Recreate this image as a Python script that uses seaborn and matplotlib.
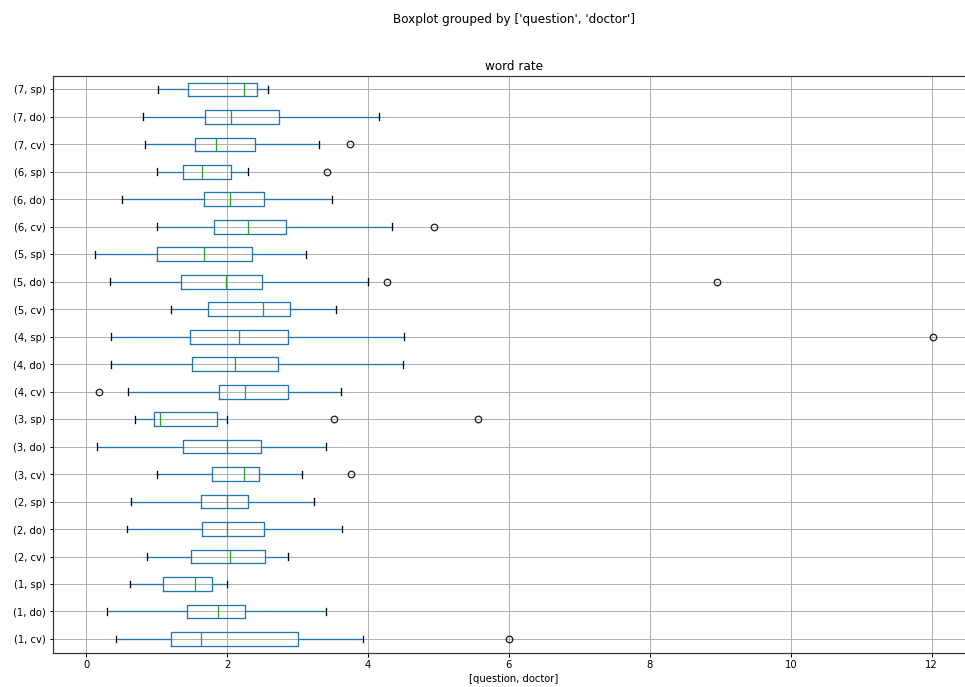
import matplotlib
matplotlib.use("Agg")
import matplotlib.pyplot as plt
import seaborn as sns

# Word-rate summaries per (question, doctor) group
questions = [1, 1, 1, 2, 2, 2, 3, 3, 3, 4, 4, 4, 5, 5, 5, 6, 6, 6, 7, 7, 7]
doctors = ["cv", "do", "sp"] * 7

whislo = [0.43, 0.29, 0.62, 0.86, 0.58, 0.64, 1.00, 0.16, 0.70,
          0.60, 0.35, 0.35, 1.20, 0.34, 0.12, 1.00, 0.51, 1.00,
          0.84, 0.81, 1.02]
q1 = [1.21, 1.43, 1.09, 1.49, 1.64, 1.63, 1.79, 1.38, 0.96,
      1.89, 1.50, 1.47, 1.73, 1.34, 1.00, 1.81, 1.67, 1.38,
      1.55, 1.69, 1.45]
med = [1.63, 1.87, 1.54, 2.04, 2.00, 2.00, 2.24, 2.00, 1.05,
       2.25, 2.11, 2.17, 2.51, 1.99, 1.67, 2.29, 2.04, 1.64,
       1.84, 2.05, 2.24]
q3 = [3.01, 2.25, 1.78, 2.54, 2.52, 2.30, 2.46, 2.48, 1.86,
      2.87, 2.72, 2.86, 2.89, 2.49, 2.35, 2.84, 2.52, 2.05,
      2.40, 2.73, 2.43]
whishi = [3.93, 3.40, 2.00, 2.87, 3.63, 3.23, 3.07, 3.40, 2.00,
          3.61, 4.50, 4.51, 3.55, 4.00, 3.12, 4.34, 3.49, 2.29,
          3.30, 4.16, 2.58]
fliers = [[6.00], [], [], [], [], [], [3.76], [], [3.52, 5.56],
          [0.18], [], [12.02], [], [4.27, 8.95], [], [4.94], [], [3.42],
          [3.74], [], []]

labels = [f"({q}, {d})" for q, d in zip(questions, doctors)]

pal = sns.color_palette("tab10")
box_color = pal[0]
median_color = pal[2]

stats = []
for i in range(len(labels)):
    stats.append(dict(label=labels[i], whislo=whislo[i], q1=q1[i], med=med[i],
                      q3=q3[i], whishi=whishi[i], fliers=fliers[i]))

DPI = 72
LW = 1.3
fig = plt.figure(figsize=(965 / DPI, 687 / DPI), dpi=DPI)
ax = fig.add_axes([52.7 / 965, (687 - 652.7) / 687,
                   (975 - 52.7) / 965, (652.7 - 75.7) / 687])

ax.bxp(stats, vert=False, widths=0.5,
       boxprops=dict(color=box_color, linewidth=LW),
       whiskerprops=dict(color=box_color, linewidth=LW),
       capprops=dict(color="k", linewidth=LW),
       medianprops=dict(color=median_color, linewidth=LW),
       flierprops=dict(marker="o", markerfacecolor="none",
                       markeredgecolor="#222222", markersize=6.5,
                       markeredgewidth=1.3))

ax.grid(True, color="#b0b0b0", linewidth=1.0)
ax.set_axisbelow(True)
ax.set_ylim(0.5, 21.5)
for spine in ax.spines.values():
    spine.set_linewidth(1.2)
    spine.set_color("#333333")
ax.tick_params(width=1.0, length=3.5)
ax.set_title("word rate", fontsize=12)
ax.set_xlabel("[question, doctor]")
fig.suptitle("Boxplot grouped by ['question', 'doctor']",
             x=514 / 965, y=1 - 20 / 687, va="center", fontsize=12)

fig.savefig("out.png", dpi=DPI)
